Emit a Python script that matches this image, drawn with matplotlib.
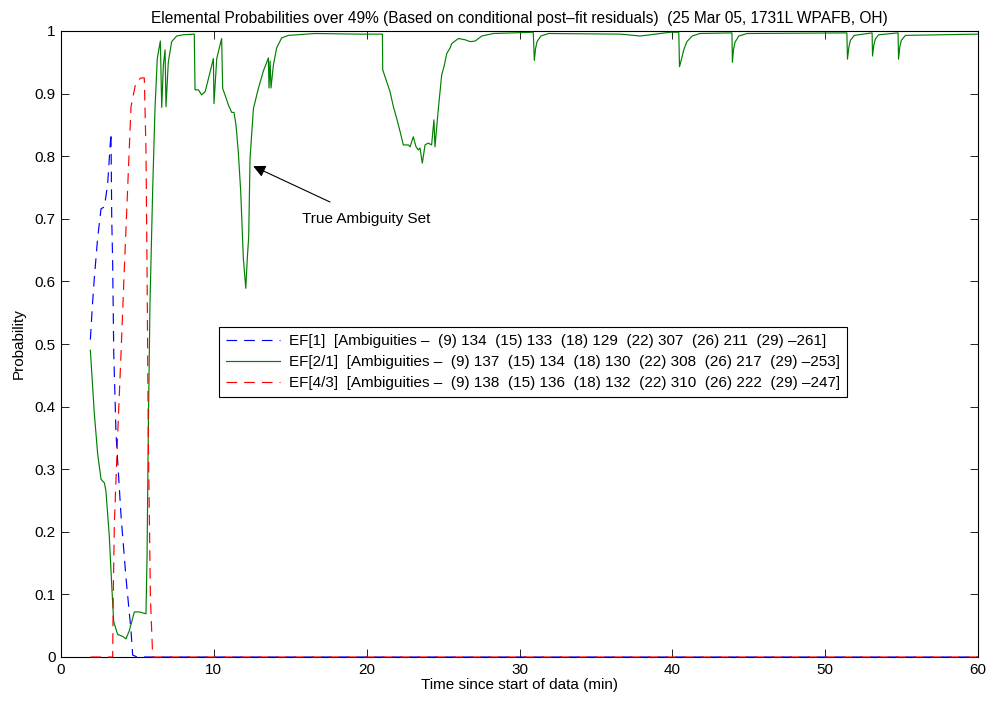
import numpy as np
from matplotlib import pyplot as plt

# ── Data ──────────────────────────────────────────────────────────────────────
ef1_t = [1.92, 2.05, 2.18, 2.4, 2.62, 2.84, 3.05, 3.27, 3.32, 3.38, 3.45, 3.6,
         3.93, 4.25, 4.58, 4.69, 5.0, 60.0]
ef1_p = [0.507, 0.56, 0.605, 0.67, 0.716, 0.719, 0.755, 0.837, 0.70, 0.63,
         0.487, 0.356, 0.225, 0.127, 0.042, 0.003, 0.0, 0.0]

ef43_t = [1.92, 3.38, 3.42, 3.49, 3.71, 3.93, 4.14, 4.36, 4.58, 4.9, 5.23,
          5.45, 5.56, 5.63, 5.71, 5.85, 6.0, 60.0]
ef43_p = [0.0, 0.0, 0.1, 0.212, 0.356, 0.487, 0.618, 0.748, 0.879, 0.918,
          0.925, 0.925, 0.81, 0.62, 0.356, 0.095, 0.0, 0.0]

ef21_t = [1.92, 2.18, 2.4, 2.62, 2.84, 2.94, 3.16, 3.32, 3.45, 3.71, 4.03,
          4.25, 4.47, 4.8, 5.13, 5.56, 5.63, 5.71, 5.82, 6.0, 6.15, 6.3, 6.5,
          6.59, 6.7, 6.81, 6.87, 7.02, 7.24, 7.57, 8.0, 8.72, 8.77, 8.99, 9.2,
          9.43, 9.71, 9.97, 10.01, 10.19, 10.51, 10.58, 10.73, 10.95, 11.17,
          11.32, 11.45, 11.6, 11.76, 11.93, 12.09, 12.19, 12.28, 12.37, 12.59,
          12.91, 13.24, 13.57, 13.61, 13.68, 13.74, 13.9, 14.11, 14.44, 14.88,
          16.62, 19.57, 21.03, 21.05, 21.31, 21.53, 21.75, 21.97, 22.19, 22.4,
          22.73, 22.84, 23.05, 23.23, 23.38, 23.49, 23.64, 23.82, 24.03, 24.25,
          24.4, 24.47, 24.69, 24.91, 25.07, 25.24, 25.46, 25.57, 26.0, 26.44,
          26.77, 27.1, 27.53, 28.29, 30.9, 30.97, 31.05, 31.15, 31.4, 31.9,
          36.6, 37.9, 39.85, 40.42, 40.47, 40.6, 40.75, 40.95, 41.3, 41.8,
          43.9, 43.93, 44.0, 44.1, 44.35, 44.9, 51.42, 51.46, 51.55, 51.65,
          51.9, 53.07, 53.1, 53.18, 53.28, 53.5, 54.77, 54.8, 54.88, 54.98,
          55.25, 60.0]
ef21_p = [0.49, 0.389, 0.324, 0.284, 0.278, 0.265, 0.193, 0.114, 0.056, 0.036,
          0.033, 0.029, 0.042, 0.072, 0.072, 0.069, 0.16, 0.356, 0.562, 0.748,
          0.876, 0.956, 0.984, 0.878, 0.946, 0.97, 0.879, 0.95, 0.983, 0.992,
          0.994, 0.995, 0.906, 0.906, 0.898, 0.903, 0.93, 0.956, 0.884, 0.956,
          0.988, 0.908, 0.898, 0.882, 0.87, 0.87, 0.85, 0.807, 0.743, 0.637,
          0.589, 0.637, 0.671, 0.797, 0.876, 0.908, 0.936, 0.957, 0.909, 0.952,
          0.909, 0.946, 0.973, 0.989, 0.993, 0.996, 0.995, 0.995, 0.938, 0.919,
          0.903, 0.879, 0.86, 0.839, 0.818, 0.818, 0.815, 0.831, 0.815, 0.81,
          0.813, 0.789, 0.818, 0.821, 0.818, 0.858, 0.815, 0.876, 0.93, 0.944,
          0.964, 0.973, 0.98, 0.988, 0.986, 0.983, 0.984, 0.992, 0.996, 0.998,
          0.953, 0.972, 0.983, 0.992, 0.996, 0.995, 0.992, 0.998, 0.998, 0.943,
          0.955, 0.97, 0.983, 0.992, 0.996, 0.997, 0.95, 0.97, 0.982, 0.992,
          0.996, 0.997, 0.955, 0.974, 0.985, 0.993, 0.997, 0.96, 0.977, 0.987,
          0.994, 0.997, 0.955, 0.974, 0.985, 0.993, 0.995]

labels = [
    "EF[1]  [Ambiguities \u2013  (9) 134  (15) 133  (18) 129  (22) 307  (26) 211  (29) \u2013261]",
    "EF[2/1]  [Ambiguities \u2013  (9) 137  (15) 134  (18) 130  (22) 308  (26) 217  (29) \u2013253]",
    "EF[4/3]  [Ambiguities \u2013  (9) 138  (15) 136  (18) 132  (22) 310  (26) 222  (29) \u2013247]",
]
title = ("Elemental Probabilities over 49% (Based on conditional post\u2013fit "
         "residuals)  (25 Mar 05, 1731L WPAFB, OH)")

# ── Style ─────────────────────────────────────────────────────────────────────
plt.rcParams.update({
    "font.family": ["Liberation Sans", "DejaVu Sans"],
    "font.size": 11,
    "xtick.direction": "in",
    "ytick.direction": "in",
    "xtick.major.size": 6,
    "ytick.major.size": 6,
    "axes.linewidth": 0.8,
})

fig = plt.figure(figsize=(9.89, 7.02), dpi=100)
ax = fig.add_axes([61 / 989, 45 / 702, 917 / 989, 626 / 702])

dash = (9, 6)
ax.plot(ef1_t, ef1_p, color="#0000ff", lw=0.85, dashes=dash, clip_on=False,
        zorder=3, label=labels[0])
ax.plot(ef21_t, ef21_p, color="#008000", lw=0.85, zorder=3, label=labels[1])
ax.plot(ef43_t, ef43_p, color="#ff0000", lw=0.85, dashes=dash, clip_on=False,
        zorder=3, label=labels[2])

ax.annotate("True Ambiguity Set", xy=(12.58, 0.784), xytext=(19.96, 0.70),
            ha="center", va="center", fontsize=11,
            arrowprops=dict(arrowstyle="-|>", color="k", lw=0.8,
                            mutation_scale=18, shrinkA=12, shrinkB=0))

# ── Axes ──────────────────────────────────────────────────────────────────────
ax.set_xlim(0, 60)
ax.set_ylim(0, 1)
ax.set_xticks(np.arange(0, 61, 10))
yt = np.round(np.arange(0, 1.01, 0.1), 1)
ax.set_yticks(yt)
ax.set_yticklabels(["0" if v == 0 else "1" if v == 1 else f"{v:g}" for v in yt])
ax.tick_params(which="both", top=True, right=True, width=0.6, pad=4)

ax.set_title(title, fontsize=11.2, pad=6)
ax.set_xlabel("Time since start of data (min)", labelpad=1)
ax.set_ylabel("Probability", labelpad=6)

leg = ax.legend(loc="center", bbox_to_anchor=(0.515, 0.471), fancybox=False,
                framealpha=1, edgecolor="black", handlelength=3.5,
                labelspacing=0.45, borderpad=0.45, handletextpad=0.6)
leg.get_frame().set_linewidth(0.8)
leg.set_zorder(5)

plt.savefig("out.png", dpi=100)
